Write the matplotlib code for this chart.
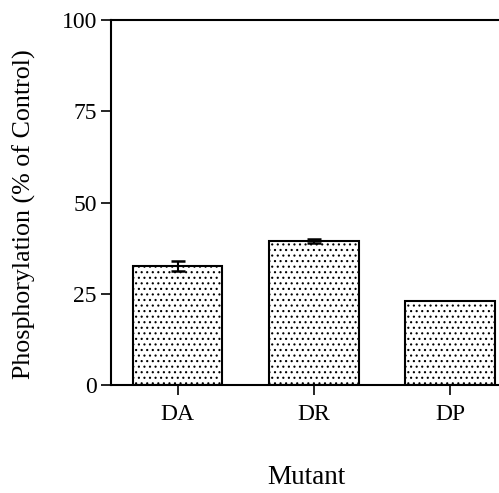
import numpy as np
import matplotlib.pyplot as plt

plt.rcParams['font.family'] = ['Liberation Serif', 'DejaVu Serif']
plt.rcParams['hatch.linewidth'] = 0.8
plt.rcParams['hatch.color'] = '#222222'

mutants = ['DA', 'DR', 'DP']
phospho = [32.6, 39.5, 23.0]
phospho_err = [1.3, 0.5, 0.0]
y_ticks = [0, 25, 50, 75, 100]

fig = plt.figure(figsize=(4.99, 4.93), dpi=100)
ax = fig.add_axes([0.222, 0.219, 0.8, 0.74])

x = np.arange(len(mutants))
ax.bar(x, phospho, width=0.66, color='white', edgecolor='black',
       linewidth=1.5, hatch='...', zorder=2)
errs = [e if e > 0 else np.nan for e in phospho_err]
ax.errorbar(x, phospho, yerr=errs, fmt='none', ecolor='black',
            elinewidth=1.5, capsize=5, capthick=1.8, zorder=3)

ax.set_xlim(-0.49, 2.44)
ax.set_ylim(0, 100)
ax.set_yticks(y_ticks)
ax.set_xticks(x)
ax.set_xticklabels(mutants)
ax.tick_params(axis='both', direction='out', length=7, width=1.2,
               labelsize=17, pad=3)
ax.tick_params(axis='x', pad=7)

for side in ['left', 'bottom', 'top']:
    ax.spines[side].set_linewidth(1.5)
ax.spines['right'].set_visible(False)

ax.set_ylabel('Phosphorylation (% of Control)', fontsize=18.7)
ax.set_xlabel('Mutant', fontsize=19.5)
ax.yaxis.set_label_coords(-0.187, 0.468)
ax.xaxis.set_label_coords(0.491, -0.218)

fig.savefig('out.png', dpi=100)
